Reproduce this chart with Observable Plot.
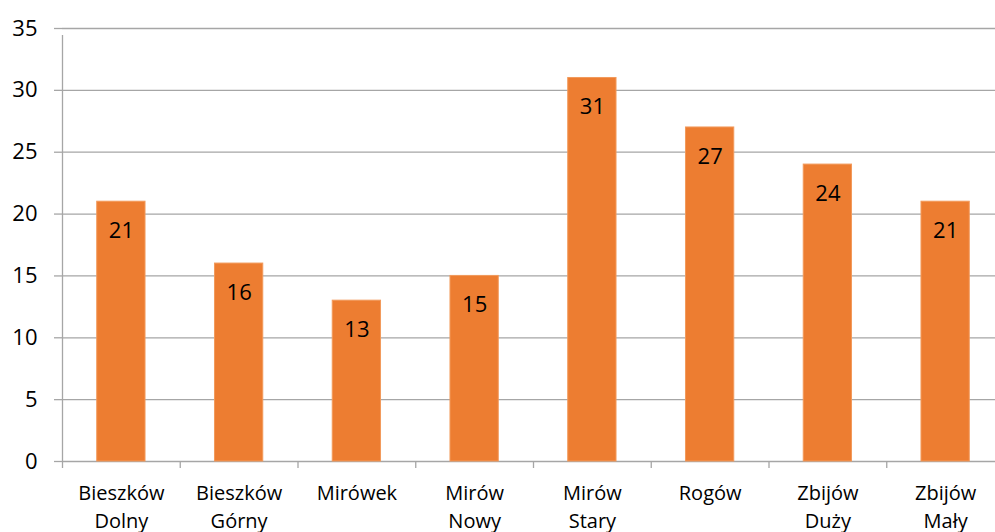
<!DOCTYPE html>
<html><head><meta charset="utf-8">
<script src="https://cdn.jsdelivr.net/npm/d3@7"></script>
<script src="https://cdn.jsdelivr.net/npm/@observablehq/plot@0.6"></script>
<style>body{margin:0;background:#fff;} svg{font-family:"Open Sans",sans-serif;}</style>
</head><body><div id="chart"></div>
<script>
const categories = ["Bieszków\nDolny","Bieszków\nGórny","Mirówek","Mirów\nNowy","Mirów\nStary","Rogów","Zbijów\nDuży","Zbijów\nMały"];
const values = [21,16,13,15,31,27,24,21];
const yTicks = [0,5,10,15,20,25,30,35];
const data = categories.map((c,i)=>({c, v: values[i]}));

const W = 995, H = 532;
const x0 = 62, x1 = 1004;
const step = (x1 - x0) / categories.length;
const grid = "#a6a6a6";
const plot = Plot.plot({
  width: W, height: H,
  marginLeft: 62, marginRight: 0, marginTop: 28, marginBottom: 71,
  x: {domain: categories, range: [x0, x1], paddingInner: 0.59, paddingOuter: 0.295, align: 0.5, round: false},
  y: {domain: [0,35]},
  style: {fontSize: "20px", color: "#000", background: "#fff"},
  marks: [
    Plot.gridY(yTicks, {stroke: grid, strokeOpacity: 1, strokeWidth: 1.3}),
    Plot.ruleX([categories[0]], {x: d=>d, dx: -step/2, y1: 0, y2: 35, insetBottom: -7, stroke: grid, strokeWidth: 1.3}),
    Plot.axisX({tickSize: 7, tickFormat: () => "", dx: -step/2, stroke: grid, strokeWidth: 1.3, label: null}),
    Plot.barY(data, {x: "c", y: "v", fill: "#ED7D31", stroke: "#F29A5C", strokeWidth: 1}),
    Plot.text(data, {x: "c", y: "v", text: d=>String(d.v), dy: 29, fontSize: 22, fill: "#000"}),
    Plot.axisY({ticks: yTicks, tickSize: 8, tickPadding: 17, stroke: grid, strokeWidth: 1.3, fontSize: 22, fill: "#000", label: null}),
    Plot.axisX({tickSize: 0, tickPadding: 19, fontSize: 20, lineHeight: 1.4, fill: "#000", label: null})
  ]
});
document.getElementById("chart").appendChild(plot);
</script>
</body></html>
